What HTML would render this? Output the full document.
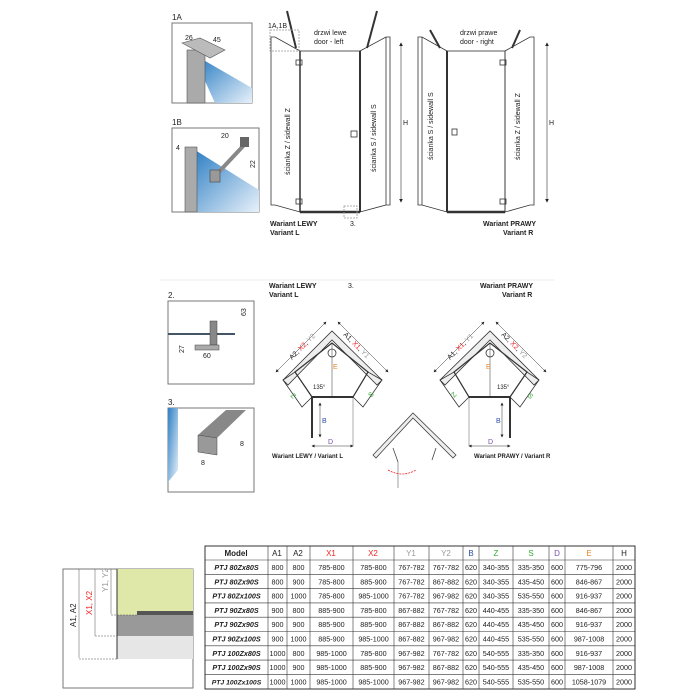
<!DOCTYPE html>
<html><head><meta charset="utf-8"><style>
body{margin:0;background:#fff;width:700px;height:700px;overflow:hidden;font-family:"Liberation Sans",sans-serif}
svg{display:block}
text{font-family:"Liberation Sans",sans-serif}
.m{font-weight:bold;font-style:italic}
</style></head><body>
<svg width="700" height="700" viewBox="0 0 700 700" xmlns="http://www.w3.org/2000/svg">
<defs>
<linearGradient id="bl" x1="0" y1="0" x2="1" y2="1"><stop offset="0" stop-color="#2e7fc4"/><stop offset="1" stop-color="#e8f1fa"/></linearGradient>
<marker id="ar" markerWidth="6" markerHeight="6" refX="5" refY="3" orient="auto-start-reverse"><path d="M0,0 L6,3 L0,6z" fill="#222"/></marker>
</defs>
<g font-size="8" fill="#222">
<text x="172" y="20" font-size="8">1A</text>
<rect x="172" y="23" width="80" height="80" fill="#fff" stroke="#777"/>
<polygon points="200,58 252,88 252,103 215,103 200,70" fill="url(#bl)"/>
<rect x="187" y="50" width="18" height="53" fill="#aaa" stroke="#555" stroke-width=".6"/>
<polygon points="182,43 200,38 225,50 210,58" fill="#bbb" stroke="#555" stroke-width=".6"/>
<text x="185" y="40" font-size="7">26</text><text x="213" y="42" font-size="7">45</text>
<text x="172" y="125" font-size="8">1B</text>
<rect x="172" y="128" width="87" height="84" fill="#fff" stroke="#777"/>
<polygon points="195,150 259,190 259,212 195,212" fill="url(#bl)"/>
<rect x="185" y="147" width="12" height="65" fill="#aaa" stroke="#555" stroke-width=".6"/>
<line x1="216" y1="175" x2="246" y2="143" stroke="#888" stroke-width="4"/>
<rect x="210" y="170" width="10" height="12" fill="#999" stroke="#444" stroke-width=".6"/>
<rect x="240" y="137" width="9" height="10" fill="#666"/>
<text x="221" y="138" font-size="7">20</text><text x="248" y="165" font-size="7" transform="rotate(-90 253 163)">22</text>
<text x="176" y="150" font-size="7">4</text>
<g stroke="#333" fill="none" stroke-width=".8">
<polygon points="271,37 275,37 300,51 300,212 275,205 271,205"/>
<line x1="300" y1="51" x2="300" y2="212" stroke-width="1.5"/>
<rect x="300" y="51" width="60" height="161"/>
<line x1="300" y1="212" x2="360" y2="212" stroke-width="2.5"/>
<line x1="360" y1="51" x2="360" y2="212" stroke-width="2"/>
<polygon points="360,51 386,37 390,37 390,205 386,205 360,212"/>
<line x1="386" y1="37" x2="386" y2="205"/>
<line x1="287" y1="11" x2="296" y2="48" stroke-width="2"/>
<line x1="377" y1="11" x2="367" y2="48" stroke-width="2"/>
<rect x="296" y="60" width="6" height="5"/><rect x="296" y="199" width="6" height="5"/>
<rect x="351" y="131" width="6" height="6"/>
<rect x="270" y="30" width="29" height="21" stroke-dasharray="2,1" stroke="#999"/>
<rect x="344" y="206" width="13" height="12" stroke-dasharray="2,1" stroke="#999"/>
<line x1="401" y1="43" x2="401" y2="202" marker-start="url(#ar)" marker-end="url(#ar)" stroke-width=".6"/>
</g>
<text x="268" y="28" font-size="7">1A,1B</text>
<text x="314" y="35" font-size="7">drzwi lewe</text><text x="314" y="44" font-size="7">door - left</text>
<text x="350" y="226" font-size="7">3.</text>
<text x="403" y="125" font-size="7">H</text>
<text font-size="7" transform="translate(290,175) rotate(-90)">ścianka Z / sidewall Z</text>
<text font-size="7" transform="translate(376,172) rotate(-90)">ścianka S / sidewall S</text>
<text x="270" y="226" font-size="7" font-weight="bold">Wariant LEWY</text>
<text x="270" y="235" font-size="7" font-weight="bold">Variant L</text>
<g stroke="#333" fill="none" stroke-width=".8">
<polygon points="418,37 422,37 447,51 447,212 422,205 418,205"/>
<line x1="422" y1="37" x2="422" y2="205"/>
<line x1="447" y1="51" x2="447" y2="212" stroke-width="2"/>
<rect x="447" y="51" width="58" height="161"/>
<line x1="447" y1="212" x2="505" y2="212" stroke-width="2.5"/>
<polygon points="505,51 530,37 534,37 534,205 530,205 505,212"/>
<line x1="430" y1="30" x2="440" y2="48" stroke-width="2"/>
<line x1="520" y1="30" x2="512" y2="48" stroke-width="2"/>
<rect x="500" y="60" width="6" height="5"/><rect x="500" y="199" width="6" height="5"/>
<rect x="452" y="129" width="5" height="6"/>
<line x1="547" y1="43" x2="547" y2="202" marker-start="url(#ar)" marker-end="url(#ar)" stroke-width=".6"/>
</g>
<text x="460" y="35" font-size="7">drzwi prawe</text><text x="460" y="44" font-size="7">door - right</text>
<text x="549" y="125" font-size="7">H</text>
<text font-size="7" transform="translate(433,160) rotate(-90)">ścianka S / sidewall S</text>
<text font-size="7" transform="translate(520,160) rotate(-90)">ścianka Z / sidewall Z</text>
<text x="483" y="226" font-size="7" font-weight="bold">Wariant PRAWY</text>
<text x="503" y="235" font-size="7" font-weight="bold">Variant R</text>
<line x1="160" y1="280" x2="555" y2="280" stroke="#eee"/>
<text x="269" y="288" font-size="7" font-weight="bold">Wariant LEWY</text>
<text x="269" y="297" font-size="7" font-weight="bold">Variant L</text>
<text x="348" y="288" font-size="7">3.</text>
<text x="480" y="288" font-size="7" font-weight="bold">Wariant PRAWY</text>
<text x="502" y="297" font-size="7" font-weight="bold">Variant R</text>
<text x="168" y="298" font-size="8">2.</text>
<rect x="168" y="301" width="86" height="83" fill="#fff" stroke="#777"/>
<line x1="168" y1="334" x2="235" y2="334" stroke="#456" stroke-width="2"/>
<rect x="210" y="321" width="7" height="24" fill="#888" stroke="#444" stroke-width=".5"/>
<rect x="195" y="345" width="24" height="5" fill="#aaa" stroke="#444" stroke-width=".5"/>
<text x="203" y="358" font-size="7">60</text><text x="244" y="318" font-size="7" transform="rotate(-90 244 316)">63</text>
<text x="182" y="355" font-size="7" transform="rotate(-90 182 353)">27</text>
<text x="168" y="405" font-size="8">3.</text>
<rect x="168" y="408" width="86" height="84" fill="#fff" stroke="#777"/>
<polygon points="168,408 178,408 178,470 168,482" fill="url(#bl)"/>
<polygon points="198,435 226,410 246,410 217,438" fill="#888"/>
<polygon points="198,435 217,438 217,455 198,452" fill="#999" stroke="#444" stroke-width=".5"/>
<text x="201" y="465" font-size="7">8</text><text x="240" y="446" font-size="7">8</text>
<g id="pent" stroke="#333" fill="none" stroke-width=".8">
<polygon points="283,380 332,331 382,380 377,385 332,340 288,385" fill="#eee"/>
<polygon points="283,380 302,407 312,397 295,372"/>
<polygon points="382,380 363,407 353,397 368,372"/>
<polygon points="295,372 332,343 368,372 353,397 312,397" stroke-width="1.2"/>
<line x1="312" y1="397" x2="353" y2="397" stroke-width="2"/>
<line x1="312" y1="397" x2="312" y2="438" stroke-width="2"/>
<line x1="332" y1="343" x2="332" y2="397" stroke-width=".5"/>
<circle cx="332" cy="353" r="4"/>
<line x1="353" y1="397" x2="353" y2="446" stroke-width=".4"/>
<line x1="312" y1="446" x2="353" y2="446" stroke-width=".5" marker-start="url(#ar)" marker-end="url(#ar)"/>
<line x1="320" y1="403" x2="320" y2="437" stroke-width=".5" marker-start="url(#ar)" marker-end="url(#ar)"/>
<line x1="276" y1="372" x2="326" y2="322" stroke-width=".5" marker-start="url(#ar)" marker-end="url(#ar)"/>
<line x1="338" y1="322" x2="388" y2="372" stroke-width=".5" marker-start="url(#ar)" marker-end="url(#ar)"/>
</g>
<use href="#pent" transform="translate(822,0) scale(-1,1)"/>
<g font-size="7">
<text transform="translate(292,360) rotate(-45)">A2, <tspan fill="#e22">X2</tspan>, <tspan fill="#999">Y2</tspan></text>
<text transform="translate(343,335) rotate(45)">A1, <tspan fill="#e22">X1</tspan>, <tspan fill="#999">Y1</tspan></text>
<text x="333" y="369" fill="#e8862a">E</text><text x="322" y="423" fill="#2a4fa8">B</text>
<text x="328" y="444" fill="#7a4fb0">D</text><text x="313" y="389" font-size="6">135°</text>
<text x="291" y="398" fill="#3a3" transform="rotate(45 293 396)">Z</text>
<text x="369" y="397" fill="#3a3" transform="rotate(-45 371 395)">S</text>
<text x="272" y="458" font-size="6" font-weight="bold">Wariant LEWY / Variant L</text>
<text transform="translate(450,360) rotate(-45)">A1, <tspan fill="#e22">X1</tspan>, <tspan fill="#999">Y1</tspan></text>
<text transform="translate(501,335) rotate(45)">A2, <tspan fill="#e22">X2</tspan>, <tspan fill="#999">Y2</tspan></text>
<text x="486" y="369" fill="#e8862a">E</text><text x="496" y="423" fill="#2a4fa8">B</text>
<text x="488" y="444" fill="#7a4fb0">D</text><text x="497" y="389" font-size="6">135°</text>
<text x="452" y="397" fill="#3a3" transform="rotate(-45 454 395)">Z</text>
<text x="528" y="398" fill="#3a3" transform="rotate(45 530 396)">S</text>
<text x="474" y="458" font-size="6" font-weight="bold">Wariant PRAWY / Variant R</text>
</g>
<g stroke="#444" fill="none" stroke-width=".8">
<polygon points="373,455 413,413 456,455 453,458 413,418 376,458" fill="#eee"/>
<line x1="393" y1="448" x2="398" y2="462"/><line x1="398" y1="462" x2="398" y2="488" stroke="#888"/>
<line x1="436" y1="448" x2="432" y2="460"/>
<path d="M388,470 Q402,478 416,470" stroke="#e22" stroke-dasharray="2,1"/>
</g>
<rect x="63" y="569" width="130" height="119" fill="#fff" stroke="#777"/>
<rect x="117" y="569" width="76" height="46" fill="#dfe8a8"/>
<polygon points="117,615 193,615 193,636 167,636 117,638" fill="#999"/>
<rect x="117" y="636" width="76" height="23" fill="#e6e6e6"/>
<line x1="117" y1="569" x2="117" y2="659" stroke="#333"/>
<rect x="137" y="611" width="56" height="4" fill="#555"/>
<g stroke="#555" stroke-width=".5">
<line x1="79" y1="569" x2="79" y2="658"/><line x1="95" y1="569" x2="95" y2="636"/><line x1="111" y1="569" x2="111" y2="614"/>
<line x1="79" y1="659" x2="117" y2="659" stroke-dasharray="2,1"/><line x1="95" y1="636" x2="117" y2="636" stroke-dasharray="2,1"/><line x1="111" y1="615" x2="137" y2="615" stroke-dasharray="2,1"/>
</g>
<text font-size="8" transform="translate(76,627) rotate(-90)">A1, A2</text>
<text font-size="8" fill="#e22" transform="translate(92,615) rotate(-90)">X1, X2</text>
<text font-size="8" fill="#999" transform="translate(108,592) rotate(-90)">Y1, Y2</text>
</g>
<g font-size="7.2" text-anchor="middle" fill="#222">
<rect x="205" y="546" width="430" height="143" fill="#fff" stroke="#333"/>
<g stroke="#333" stroke-width=".6">
<line x1="268" y1="546" x2="268" y2="689"/><line x1="287" y1="546" x2="287" y2="689"/><line x1="310" y1="546" x2="310" y2="689"/><line x1="353" y1="546" x2="353" y2="689"/><line x1="394" y1="546" x2="394" y2="689"/><line x1="429" y1="546" x2="429" y2="689"/><line x1="463" y1="546" x2="463" y2="689"/><line x1="479" y1="546" x2="479" y2="689"/><line x1="513" y1="546" x2="513" y2="689"/><line x1="549" y1="546" x2="549" y2="689"/><line x1="565" y1="546" x2="565" y2="689"/><line x1="613" y1="546" x2="613" y2="689"/>
<line x1="205" y1="560" x2="635" y2="560"/><line x1="205" y1="574.3" x2="635" y2="574.3"/><line x1="205" y1="588.6" x2="635" y2="588.6"/><line x1="205" y1="602.9" x2="635" y2="602.9"/><line x1="205" y1="617.2" x2="635" y2="617.2"/><line x1="205" y1="631.5" x2="635" y2="631.5"/><line x1="205" y1="645.8" x2="635" y2="645.8"/><line x1="205" y1="660.1" x2="635" y2="660.1"/><line x1="205" y1="674.4" x2="635" y2="674.4"/>
</g>
<g font-size="8"><text x="236" y="556" font-weight="bold">Model</text><text x="277" y="556">A1</text><text x="298" y="556">A2</text><text x="331" y="556" fill="#e22">X1</text><text x="373" y="556" fill="#e22">X2</text><text x="411" y="556" fill="#999">Y1</text><text x="446" y="556" fill="#999">Y2</text><text x="471" y="556" fill="#2a4fa8">B</text><text x="496" y="556" fill="#3a3">Z</text><text x="531" y="556" fill="#3a3">S</text><text x="557" y="556" fill="#7a4fb0">D</text><text x="589" y="556" fill="#e8862a">E</text><text x="624" y="556">H</text></g>

<g transform="translate(0,570)"><text x="236.5" class="m">PTJ 80Zx80S</text><text x="277.5">800</text><text x="298.5">800</text><text x="331.5">785-800</text><text x="373.5">785-800</text><text x="411.5">767-782</text><text x="446">767-782</text><text x="471">620</text><text x="496">340-355</text><text x="531">335-350</text><text x="557">600</text><text x="589">775-796</text><text x="624">2000</text></g>
<g transform="translate(0,584.3)"><text x="236.5" class="m">PTJ 80Zx90S</text><text x="277.5">800</text><text x="298.5">900</text><text x="331.5">785-800</text><text x="373.5">885-900</text><text x="411.5">767-782</text><text x="446">867-882</text><text x="471">620</text><text x="496">340-355</text><text x="531">435-450</text><text x="557">600</text><text x="589">846-867</text><text x="624">2000</text></g>
<g transform="translate(0,598.6)"><text x="236.5" class="m">PTJ 80Zx100S</text><text x="277.5">800</text><text x="298.5">1000</text><text x="331.5">785-800</text><text x="373.5">985-1000</text><text x="411.5">767-782</text><text x="446">967-982</text><text x="471">620</text><text x="496">340-355</text><text x="531">535-550</text><text x="557">600</text><text x="589">916-937</text><text x="624">2000</text></g>
<g transform="translate(0,612.9)"><text x="236.5" class="m">PTJ 90Zx80S</text><text x="277.5">900</text><text x="298.5">800</text><text x="331.5">885-900</text><text x="373.5">785-800</text><text x="411.5">867-882</text><text x="446">767-782</text><text x="471">620</text><text x="496">440-455</text><text x="531">335-350</text><text x="557">600</text><text x="589">846-867</text><text x="624">2000</text></g>
<g transform="translate(0,627.2)"><text x="236.5" class="m">PTJ 90Zx90S</text><text x="277.5">900</text><text x="298.5">900</text><text x="331.5">885-900</text><text x="373.5">885-900</text><text x="411.5">867-882</text><text x="446">867-882</text><text x="471">620</text><text x="496">440-455</text><text x="531">435-450</text><text x="557">600</text><text x="589">916-937</text><text x="624">2000</text></g>
<g transform="translate(0,641.5)"><text x="236.5" class="m">PTJ 90Zx100S</text><text x="277.5">900</text><text x="298.5">1000</text><text x="331.5">885-900</text><text x="373.5">985-1000</text><text x="411.5">867-882</text><text x="446">967-982</text><text x="471">620</text><text x="496">440-455</text><text x="531">535-550</text><text x="557">600</text><text x="589">987-1008</text><text x="624">2000</text></g>
<g transform="translate(0,655.8)"><text x="236.5" class="m">PTJ 100Zx80S</text><text x="277.5">1000</text><text x="298.5">800</text><text x="331.5">985-1000</text><text x="373.5">785-800</text><text x="411.5">967-982</text><text x="446">767-782</text><text x="471">620</text><text x="496">540-555</text><text x="531">335-350</text><text x="557">600</text><text x="589">916-937</text><text x="624">2000</text></g>
<g transform="translate(0,670.1)"><text x="236.5" class="m">PTJ 100Zx90S</text><text x="277.5">1000</text><text x="298.5">900</text><text x="331.5">985-1000</text><text x="373.5">885-900</text><text x="411.5">967-982</text><text x="446">867-882</text><text x="471">620</text><text x="496">540-555</text><text x="531">435-450</text><text x="557">600</text><text x="589">987-1008</text><text x="624">2000</text></g>
<g transform="translate(0,684.4)"><text x="236.5" class="m" font-size="6.8">PTJ 100Zx100S</text><text x="277.5">1000</text><text x="298.5">1000</text><text x="331.5">985-1000</text><text x="373.5">985-1000</text><text x="411.5">967-982</text><text x="446">967-982</text><text x="471">620</text><text x="496">540-555</text><text x="531">535-550</text><text x="557">600</text><text x="589">1058-1079</text><text x="624">2000</text></g>
</g>
</svg>
</body></html>
